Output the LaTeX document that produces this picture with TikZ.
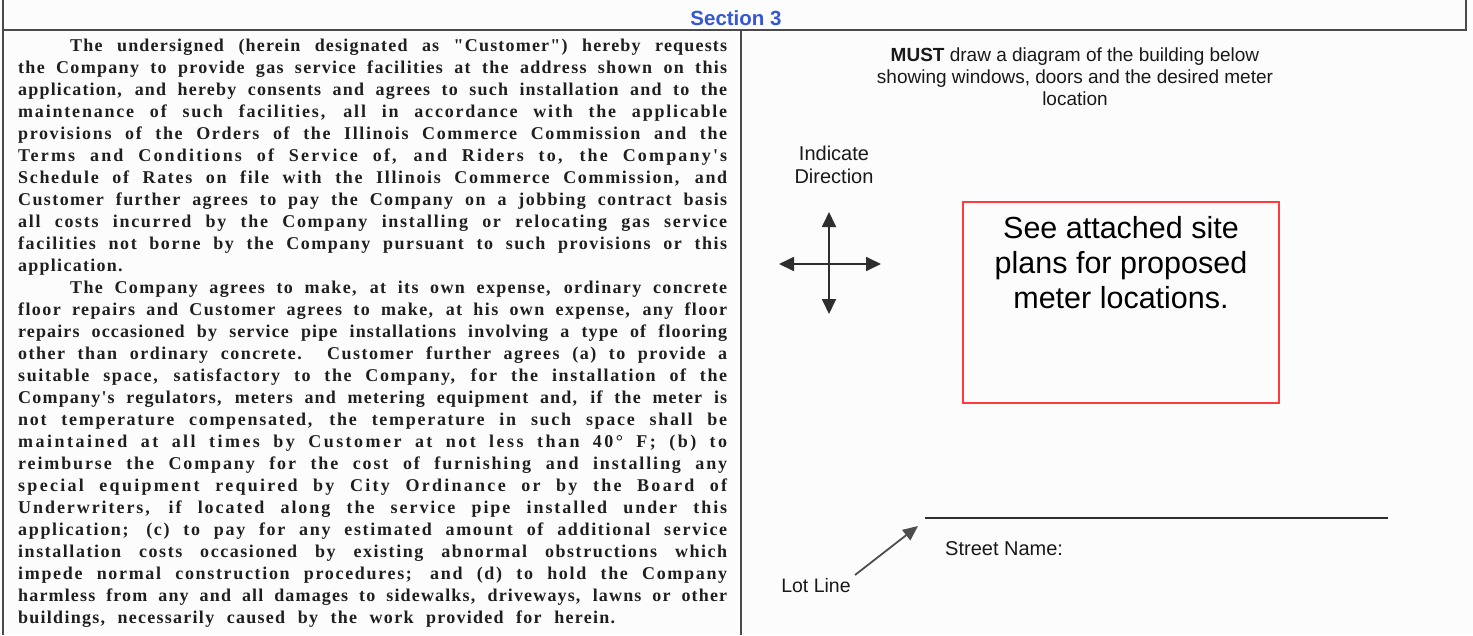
\documentclass[tikz,border=0pt]{standalone}
\usepackage{fontspec}
\setmainfont{Liberation Serif}
\setsansfont{Liberation Sans}
\newfontfamily\bodyfont{Liberation Serif}
\usetikzlibrary{arrows.meta}
\definecolor{framegray}{HTML}{4A4A4A}
\definecolor{sectblue}{HTML}{3557D4}
\definecolor{boxred}{HTML}{FF3B3B}
\definecolor{inkgray}{HTML}{2E2E2E}
\definecolor{paper}{HTML}{FBFCFB}
\newlength\lwA
\newlength\lwB
% justified line: part of the extra room goes to letter spacing, the rest to word spaces
\newcommand{\jl}[1]{%
  \settowidth\lwA{#1}%
  \settowidth\lwB{\addfontfeature{LetterSpace=10}#1}%
  \pgfmathsetmacro\lsv{max(0,5*(709-\lwA)/(\lwB-\lwA))}%
  \makebox[709pt][s]{\edef\tmpls{\noexpand\addfontfeature{LetterSpace=\lsv}}\tmpls
    \spaceskip=\fontdimen2\font plus 20em minus 0.1em\relax #1}\\}
\newcommand{\lastl}[1]{{\addfontfeature{LetterSpace=7}\spaceskip=0.7em\relax #1}}
\newcommand{\pind}{\hspace*{52pt}}
\tikzset{
  frame/.style={draw=framegray, line width=1.6pt},
  legaltext/.style={anchor=north west, inner sep=0pt, text width=709pt, align=left,
    font=\bodyfont\bfseries\fontsize{18}{22}\selectfont, text=black!88},
  sanstext/.style={font=\sffamily\fontsize{19}{22}\selectfont, align=center, inner sep=0pt, text=black!90},
  dirarrow/.style={draw=inkgray, line width=1.8pt, {Triangle[length=15pt,width=14pt]}-{Triangle[length=15pt,width=14pt]}},
  lotarrow/.style={draw=inkgray!85, line width=1.8pt, -{Triangle[length=15pt,width=13pt]}},
  sitebox/.style={draw=boxred, line width=1.2pt, minimum width=316pt, minimum height=201pt, inner sep=0pt},
}
\begin{document}
\begin{tikzpicture}[x=1pt,y=-1pt]
\useasboundingbox (0,0) rectangle (1473,635);
\fill[paper] (0,0) rectangle (1473,635);
% frame
\coordinate (tl) at (3,0);
\coordinate (bl) at (3,635);
\coordinate (ml) at (3,30);
\coordinate (mr) at (1466,30);
\coordinate (tr) at (1466,0);
\coordinate (dt) at (741,30);
\coordinate (db) at (741,635);
\draw[frame] (tl) -- (bl);
\draw[frame] (ml) -- (mr) -- (tr);
\draw[frame] (dt) -- (db);
\node[font=\sffamily\bfseries\fontsize{20.5}{22}\selectfont, text=sectblue, inner sep=0pt] (sect) at (736,18) {Section 3};
% legal text
\node[legaltext] (legal) at (18,39) {%
\jl{\pind The undersigned (herein designated as "Customer") hereby requests}
\jl{the Company to provide gas service facilities at the address shown on this}
\jl{application, and hereby consents and agrees to such installation and to the}
\jl{maintenance of such facilities, all in accordance with the applicable}
\jl{provisions of the Orders of the Illinois Commerce Commission and the}
\jl{Terms and Conditions of Service of, and Riders to, the Company's}
\jl{Schedule of Rates on file with the Illinois Commerce Commission, and}
\jl{Customer further agrees to pay the Company on a jobbing contract basis}
\jl{all costs incurred by the Company installing or relocating gas service}
\jl{facilities not borne by the Company pursuant to such provisions or this}
\lastl{application.}\\
\jl{\pind The Company agrees to make, at its own expense, ordinary concrete}
\jl{floor repairs and Customer agrees to make, at his own expense, any floor}
\jl{repairs occasioned by service pipe installations involving a type of flooring}
\jl{other than ordinary concrete.\ \ Customer further agrees (a) to provide a}
\jl{suitable space, satisfactory to the Company, for the installation of the}
\jl{Company's regulators, meters and metering equipment and, if the meter is}
\jl{not temperature compensated, the temperature in such space shall be}
\jl{maintained at all times by Customer at not less than 40° F; (b) to}
\jl{reimburse the Company for the cost of furnishing and installing any}
\jl{special equipment required by City Ordinance or by the Board of}
\jl{Underwriters, if located along the service pipe installed under this}
\jl{application; (c) to pay for any estimated amount of additional service}
\jl{installation costs occasioned by existing abnormal obstructions which}
\jl{impede normal construction procedures; and (d) to hold the Company}
\jl{harmless from any and all damages to sidewalks, driveways, lawns or other}
\lastl{buildings, necessarily caused by the work provided for herein.}};
% right column
\node[sanstext] (must) at (1075,77) {\textbf{MUST} draw a diagram of the building below\\showing windows, doors and the desired meter\\location};
\node[sanstext, font=\sffamily\fontsize{20}{23}\selectfont] (indic) at (834,165) {Indicate\\Direction};
\coordinate (cn) at (829,212);
\coordinate (cs) at (829,314);
\coordinate (cw) at (779,264);
\coordinate (ce) at (881,264);
\draw[dirarrow] (cs) -- (cn);
\draw[dirarrow] (cw) -- (ce);
\node[sitebox] (site) at (1121,302.5) {};
\node[font=\sffamily\fontsize{30.5}{35}\selectfont, align=center, inner sep=0pt, anchor=north] (sitetxt) at (site.north) [yshift=-15pt] {See attached site\\plans for proposed\\meter locations.};
\coordinate (sl) at (925,518);
\coordinate (sr) at (1388,518);
\draw[draw=inkgray, line width=2pt] (sl) -- (sr);
\node[sanstext, anchor=west, font=\sffamily\fontsize{20}{22}\selectfont] (street) at (945,549) {Street Name:};
\node[sanstext, font=\sffamily\fontsize{19.5}{22}\selectfont] (lot) at (816,586) {Lot Line};
\coordinate (lotstart) at (855,575);
\coordinate (lottip) at (918,526);
\draw[lotarrow] (lotstart) -- (lottip);
\end{tikzpicture}
\end{document}
